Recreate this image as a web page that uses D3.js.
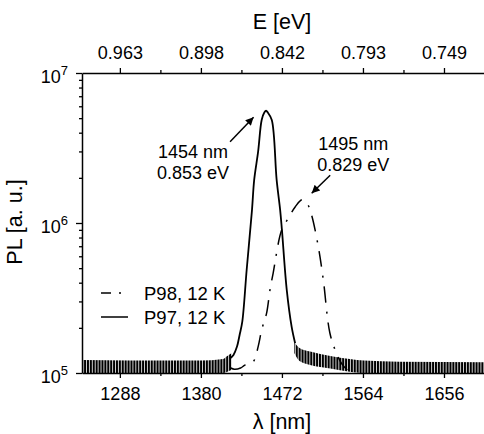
<!DOCTYPE html>
<html><head><meta charset="utf-8">
<script src="https://cdn.jsdelivr.net/npm/d3@7"></script>
<style>
html,body{margin:0;padding:0;background:#fff;}
svg{display:block;font-family:"Liberation Sans",Arial,Helvetica,sans-serif;}
</style></head><body>
<svg id="chart" width="484" height="434"></svg>
<script>
// Wavelength ticks (nm) on the bottom axis; the top axis shows the same positions in eV
const lambdaTicks = [1288, 1380, 1472, 1564, 1656];
const lambdaMinor = [1334, 1426, 1518, 1610];
const energyLabels = ["0.963", "0.898", "0.842", "0.793", "0.749"];
const plExponents = [5, 6, 7];

// P97, 12 K: emission peak [λ (nm), PL (a.u.)]
const p97Peak = [
  [1413, 1.25e5], [1417, 1.32e5], [1421, 1.5e5], [1424, 1.8e5], [1427, 2.2e5],
  [1432, 4.9e5], [1438, 1.22e6], [1440.5, 1.94e6], [1445, 3.0e6], [1449, 4.86e6],
  [1452, 5.45e6], [1454, 5.6e6], [1456, 5.45e6], [1460.5, 4.86e6], [1466, 1.94e6],
  [1470, 1.22e6], [1472, 9.0e5], [1477.5, 3.57e5], [1483, 2.04e5], [1487, 1.58e5]
];
// P97, 12 K: fringe band of the background [λ, lower envelope, upper envelope]
const p97FringeLeft = [
  [1245, 1.0e5, 1.22e5], [1300, 1.0e5, 1.21e5], [1380, 1.0e5, 1.21e5],
  [1405, 1.0e5, 1.24e5], [1410, 1.02e5, 1.3e5], [1415, 1.05e5, 1.36e5]
];
const p97FringeRight = [
  [1486, 1.36e5, 1.6e5], [1492, 1.2e5, 1.47e5], [1504, 1.13e5, 1.39e5],
  [1527, 1.07e5, 1.3e5], [1549, 1.02e5, 1.24e5], [1565, 1.0e5, 1.21e5],
  [1605, 1.0e5, 1.19e5], [1702, 1.0e5, 1.18e5]
];
// P98, 12 K spectrum [λ (nm), PL (a.u.)]
const p98 = [
  [1414, 1.08e5], [1418, 1.06e5], [1425, 1.08e5], [1430, 1.13e5], [1439.4, 1.19e5],
  [1445, 1.5e5], [1449, 1.94e5], [1454.6, 2.51e5], [1458.4, 3.57e5], [1462, 4.62e5],
  [1471.7, 8.98e5], [1479, 1.07e6], [1487, 1.28e6], [1495, 1.43e6], [1501.5, 1.32e6],
  [1505.7, 1.13e6], [1513.3, 6.95e5], [1519, 4.17e5], [1526.5, 1.84e5], [1534, 1.35e5],
  [1540, 1.15e5], [1548, 1.02e5]
];

// Peak annotations: position of the maximum and its label
const peakNotes = [
  {lambda: 1454, pl: 5.6e6, lines: ["1454 nm", "0.853 eV"]},
  {lambda: 1495, pl: 1.43e6, lines: ["1495 nm", "0.829 eV"]}
];
const legendItems = [
  {name: "P98, 12 K", dash: "10,8,2,8"},
  {name: "P97, 12 K", dash: null}
];

const svg = d3.select("#chart");
const mLeft = 82, mRight = 484.5, mTop = 73, mBottom = 373;

const x = d3.scaleLinear().domain([1245, 1702]).range([mLeft, mRight]);
const y = d3.scaleLog().domain([1e5, 1e7]).range([mBottom, mTop]);

const defs = svg.append("defs");
defs.append("clipPath").attr("id", "plotClip")
  .append("rect").attr("x", mLeft).attr("y", mTop).attr("width", mRight - mLeft).attr("height", mBottom - mTop);
// dense vertical hatching used for the interference-fringe band
const pat = defs.append("pattern").attr("id", "fringe")
  .attr("patternUnits", "userSpaceOnUse").attr("width", 2.9).attr("height", 20);
pat.append("rect").attr("x", 0).attr("y", 0).attr("width", 2.1).attr("height", 20).attr("fill", "#000");
defs.append("marker").attr("id", "arrow")
  .attr("viewBox", "0 0 10 10").attr("refX", 10).attr("refY", 5)
  .attr("markerUnits", "userSpaceOnUse").attr("markerWidth", 10).attr("markerHeight", 8)
  .attr("orient", "auto")
  .append("path").attr("d", "M0,0 L10,5 L0,10 z").attr("fill", "#000");

// Data layer
const plot = svg.append("g").attr("clip-path", "url(#plotClip)");
const band = d3.area().x(d => x(d[0])).y0(d => y(d[1])).y1(d => y(d[2])).curve(d3.curveMonotoneX);
[p97FringeLeft, p97FringeRight].forEach(seg => {
  plot.append("path").datum(seg).attr("d", band).attr("fill", "url(#fringe)");
});
const line = d3.line().x(d => x(d[0])).y(d => y(d[1])).curve(d3.curveCatmullRom.alpha(0.5));
plot.append("path").datum(p98).attr("d", line)
  .attr("fill", "none").attr("stroke", "#000").attr("stroke-width", 1.5)
  .attr("stroke-dasharray", "16,9,2,9");
plot.append("path").datum(p97Peak).attr("d", line)
  .attr("fill", "none").attr("stroke", "#000").attr("stroke-width", 1.8);

// Axes
const axisStyle = g => {
  g.select(".domain").attr("stroke-width", 1.5);
  g.selectAll(".tick line").attr("stroke-width", 1.3);
  g.selectAll("text").attr("font-size", 18).attr("fill", "#000")
    .attr("font-family", '"Liberation Sans",Arial,sans-serif');
};

// bottom: wavelength
svg.append("g").attr("transform", `translate(0,${mBottom})`)
  .call(d3.axisBottom(x).tickValues(lambdaMinor).tickSize(3).tickFormat(""))
  .call(g => g.select(".domain").remove())
  .selectAll("line").attr("stroke-width", 1.3);
svg.append("g").attr("transform", `translate(0,${mBottom})`)
  .call(d3.axisBottom(x).tickValues(lambdaTicks).tickSize(5).tickSizeOuter(0).tickPadding(9).tickFormat(d3.format("d")))
  .call(axisStyle);

// top: photon energy
svg.append("g").attr("transform", `translate(0,${mTop})`)
  .call(d3.axisTop(x).tickValues(lambdaMinor).tickSize(3).tickFormat(""))
  .call(g => g.select(".domain").remove())
  .selectAll("line").attr("stroke-width", 1.3);
svg.append("g").attr("transform", `translate(0,${mTop})`)
  .call(d3.axisTop(x).tickValues(lambdaTicks).tickSize(5).tickSizeOuter(0).tickPadding(9)
    .tickFormat((d, i) => energyLabels[i]))
  .call(axisStyle);

// left: PL, log scale
const minorY = [];
for (let e = 5; e < 7; e++) for (let m = 2; m <= 9; m++) minorY.push(m * Math.pow(10, e));
svg.append("g").attr("transform", `translate(${mLeft},0)`)
  .call(d3.axisLeft(y).tickValues(minorY).tickSize(3).tickFormat(""))
  .call(g => g.select(".domain").remove())
  .selectAll("line").attr("stroke-width", 1.3);
const yAxis = svg.append("g").attr("transform", `translate(${mLeft},0)`)
  .call(d3.axisLeft(y).tickValues(plExponents.map(e => Math.pow(10, e))).tickSize(6).tickSizeOuter(0).tickFormat(""))
  .call(axisStyle);
yAxis.selectAll(".tick").each(function(d) {
  const t = d3.select(this).append("text")
    .attr("x", -14).attr("y", 9.5).attr("text-anchor", "end")
    .attr("fill", "#000").attr("font-size", 18);
  t.append("tspan").text("10");
  t.append("tspan").attr("dy", -8).attr("font-size", 13).text(Math.round(Math.log10(d)));
});

// Axis titles
svg.append("text").attr("x", 282).attr("y", 29).attr("text-anchor", "middle")
  .attr("font-size", 21.5).text("E [eV]");
svg.append("text").attr("x", 282).attr("y", 429).attr("text-anchor", "middle")
  .attr("font-size", 21.5).text("λ [nm]");
svg.append("text").attr("transform", "translate(22,222) rotate(-90)").attr("text-anchor", "middle")
  .attr("font-size", 21.5).text("PL [a. u.]");

// Peak annotations with arrows
const noteLayout = [
  {tx: -73, ty: 47.5, ax0: -36, ay0: 31, ax1: -12.5, ay1: 6.5},
  {tx: 51, ty: -49.5, ax0: 28, ay0: -24.5, ax1: 9.5, ay1: -6.5}
];
peakNotes.forEach((n, i) => {
  const px = x(n.lambda), py = y(n.pl), L = noteLayout[i];
  const t = svg.append("text").attr("text-anchor", "middle").attr("font-size", 18);
  n.lines.forEach((s, k) => {
    t.append("tspan").attr("x", px + L.tx).attr("y", py + L.ty + k * 20.5).text(s);
  });
  svg.append("line")
    .attr("x1", px + L.ax0).attr("y1", py + L.ay0)
    .attr("x2", px + L.ax1).attr("y2", py + L.ay1)
    .attr("stroke", "#000").attr("stroke-width", 1.5).attr("marker-end", "url(#arrow)");
});

// Legend
legendItems.forEach((it, i) => {
  const ly = 293 + i * 24;
  const l = svg.append("line").attr("x1", 101).attr("x2", 128).attr("y1", ly).attr("y2", ly)
    .attr("stroke", "#000").attr("stroke-width", 1.5);
  if (it.dash) l.attr("stroke-dasharray", it.dash);
  svg.append("text").attr("x", 144).attr("y", ly + 6.5).attr("font-size", 18.5).text(it.name);
});
</script>
</body></html>
